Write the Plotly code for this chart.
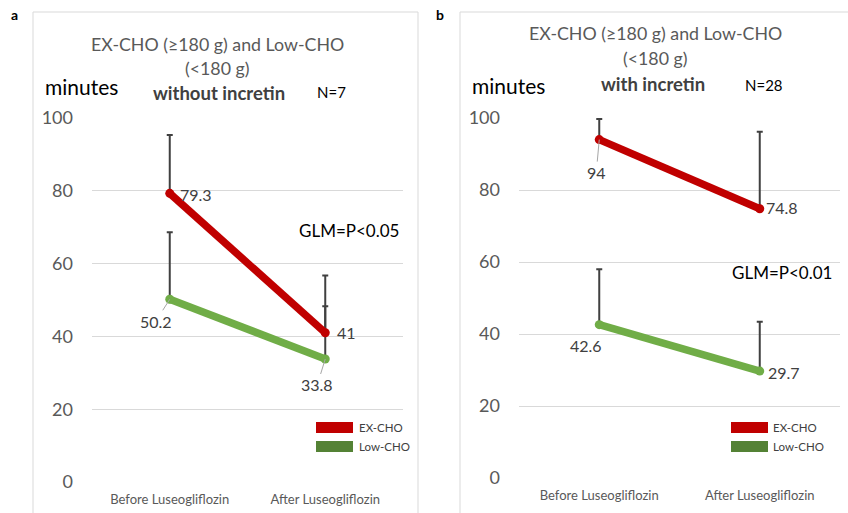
import plotly.graph_objects as go

categories = ["Before Luseogliflozin", "After Luseogliflozin"]
y_ticks = [0, 20, 40, 60, 80, 100]

# Panel a: without incretin (N=7)
a_ex = [79.3, 41]
a_ex_err = [16.0, 15.7]
a_low = [50.2, 33.8]
a_low_err = [18.4, 14.5]

# Panel b: with incretin (N=28)
b_ex = [94, 74.8]
b_ex_err = [5.7, 21.4]
b_low = [42.6, 29.7]
b_low_err = [15.4, 13.7]

series_names = ["EX-CHO", "Low-CHO"]
RED = "#C00000"
GREEN = "#70AD47"
GREEN_DARK = "#548235"
FONT = "Lato"

W, H = 848, 513

fig = go.Figure()

def add_series(xa, ya, vals, errs, color, name):
    fig.add_trace(go.Scatter(
        x=categories, y=vals, name=name, xaxis=xa, yaxis=ya,
        mode="lines+markers",
        line=dict(color=color, width=7.5),
        marker=dict(color=color, size=9),
        error_y=dict(type="data", symmetric=False, array=errs,
                     arrayminus=[0] * len(errs), color="#404040",
                     thickness=2, width=3),
        showlegend=False,
    ))

add_series("x", "y", a_low, a_low_err, GREEN, series_names[1])
add_series("x", "y", a_ex, a_ex_err, RED, series_names[0])
add_series("x2", "y2", b_low, b_low_err, GREEN, series_names[1])
add_series("x2", "y2", b_ex, b_ex_err, RED, series_names[0])

def px(x):
    return x / W

def py(y):
    return 1 - y / H

axis_common = dict(type="category", range=[-0.5, 1.5], showgrid=False,
                   zeroline=False, showline=False, ticks="", automargin=False,
                   ticklabelstandoff=8,
                   tickfont=dict(family=FONT, size=13, color="#595959"))
yaxis_common = dict(range=[0, 100], tickvals=y_ticks, showgrid=True,
                    gridcolor="#D9D9D9", gridwidth=1, zeroline=False,
                    showline=False, ticks="", ticklabelstandoff=18, automargin=False,
                    tickfont=dict(family=FONT, size=18, color="#595959"))

fig.update_layout(
    width=W, height=H,
    margin=dict(l=0, r=0, t=0, b=0, pad=0, autoexpand=False),
    paper_bgcolor="white", plot_bgcolor="white",
    xaxis=dict(domain=[px(92), px(403)], anchor="y", **axis_common),
    yaxis=dict(domain=[py(482), py(118)], anchor="x", **yaxis_common),
    xaxis2=dict(domain=[px(519), px(840)], anchor="y2", **axis_common),
    yaxis2=dict(domain=[py(478), py(118)], anchor="x2", **yaxis_common),
    font=dict(family=FONT),
)

shapes = []
annotations = []

def paper_text(x, y, text, size, color="#000000", bold=False, xanchor="center"):
    annotations.append(dict(
        xref="paper", yref="paper", x=px(x), y=py(y), text=f"<b>{text}</b>" if bold else text,
        showarrow=False, xanchor=xanchor, yanchor="middle",
        font=dict(family=FONT, size=size, color=color)))

# Panel borders
shapes.append(dict(type="rect", xref="paper", yref="paper", x0=px(33), x1=px(418),
                   y0=py(520), y1=py(12), line=dict(color="#D9D9D9", width=1)))
shapes.append(dict(type="rect", xref="paper", yref="paper", x0=px(460), x1=px(860),
                   y0=py(520), y1=py(12), line=dict(color="#D9D9D9", width=1)))

# Panel letters
paper_text(14, 14, "a", 14, bold=True)
paper_text(440, 14, "b", 14, bold=True)

# Panel a titles
paper_text(217, 44, "EX-CHO (≥180 g) and Low-CHO", 17.8, "#595959")
paper_text(217, 68, "(&lt;180 g)", 17.8, "#595959")
paper_text(81, 86, "minutes", 21)
paper_text(219, 93, "without incretin", 18.5, "#404040", bold=True)
paper_text(331, 92, "N=7", 15)
paper_text(349, 230, "GLM=P&lt;0.05", 17)

# Panel b titles
paper_text(655, 33, "EX-CHO (≥180 g) and Low-CHO", 17.8, "#595959")
paper_text(655, 58, "(&lt;180 g)", 17.8, "#595959")
paper_text(508, 85, "minutes", 21)
paper_text(653, 84, "with incretin", 18.5, "#404040", bold=True)
paper_text(764, 85, "N=28", 15)
paper_text(782, 272, "GLM=P&lt;0.01", 17)

# Legends
for (lx, tx) in [(316, 357), (731, 771)]:
    shapes.append(dict(type="rect", xref="paper", yref="paper", x0=px(lx), x1=px(lx + 37),
                       y0=py(433), y1=py(422), fillcolor=RED, line=dict(width=0)))
    shapes.append(dict(type="rect", xref="paper", yref="paper", x0=px(lx), x1=px(lx + 37),
                       y0=py(452), y1=py(441), fillcolor=GREEN_DARK, line=dict(width=0)))
    paper_text(tx, 427.5, series_names[0], 11.5, "#404040", xanchor="left")
    paper_text(tx, 446.5, series_names[1], 11.5, "#404040", xanchor="left")

# Data labels
def data_label(xr, yr, cat, val, dx, dy, leader=False):
    annotations.append(dict(
        xref=xr, yref=yr, x=cat, y=val, text=f"{val:g}",
        showarrow=leader, arrowhead=0, arrowwidth=1, arrowcolor="#A6A6A6",
        ax=dx, ay=dy, xshift=0 if leader else dx, yshift=0 if leader else -dy,
        font=dict(family=FONT, size=16, color="#404040")))

data_label("x", "y", categories[0], a_ex[0], 26, 1)
data_label("x", "y", categories[0], a_low[0], -14, 22, leader=True)
data_label("x", "y", categories[1], a_ex[1], 21, 0)
data_label("x", "y", categories[1], a_low[1], -8, 26, leader=True)
data_label("x2", "y2", categories[0], b_ex[0], -3, 33, leader=True)
data_label("x2", "y2", categories[1], b_ex[1], 22, -1)
data_label("x2", "y2", categories[0], b_low[0], -13, 21)
data_label("x2", "y2", categories[1], b_low[1], 24, 1)

fig.update_layout(shapes=shapes, annotations=annotations)

fig.write_html("out.html", config={"displayModeBar": False},
               post_script="document.body.style.margin='0';")
